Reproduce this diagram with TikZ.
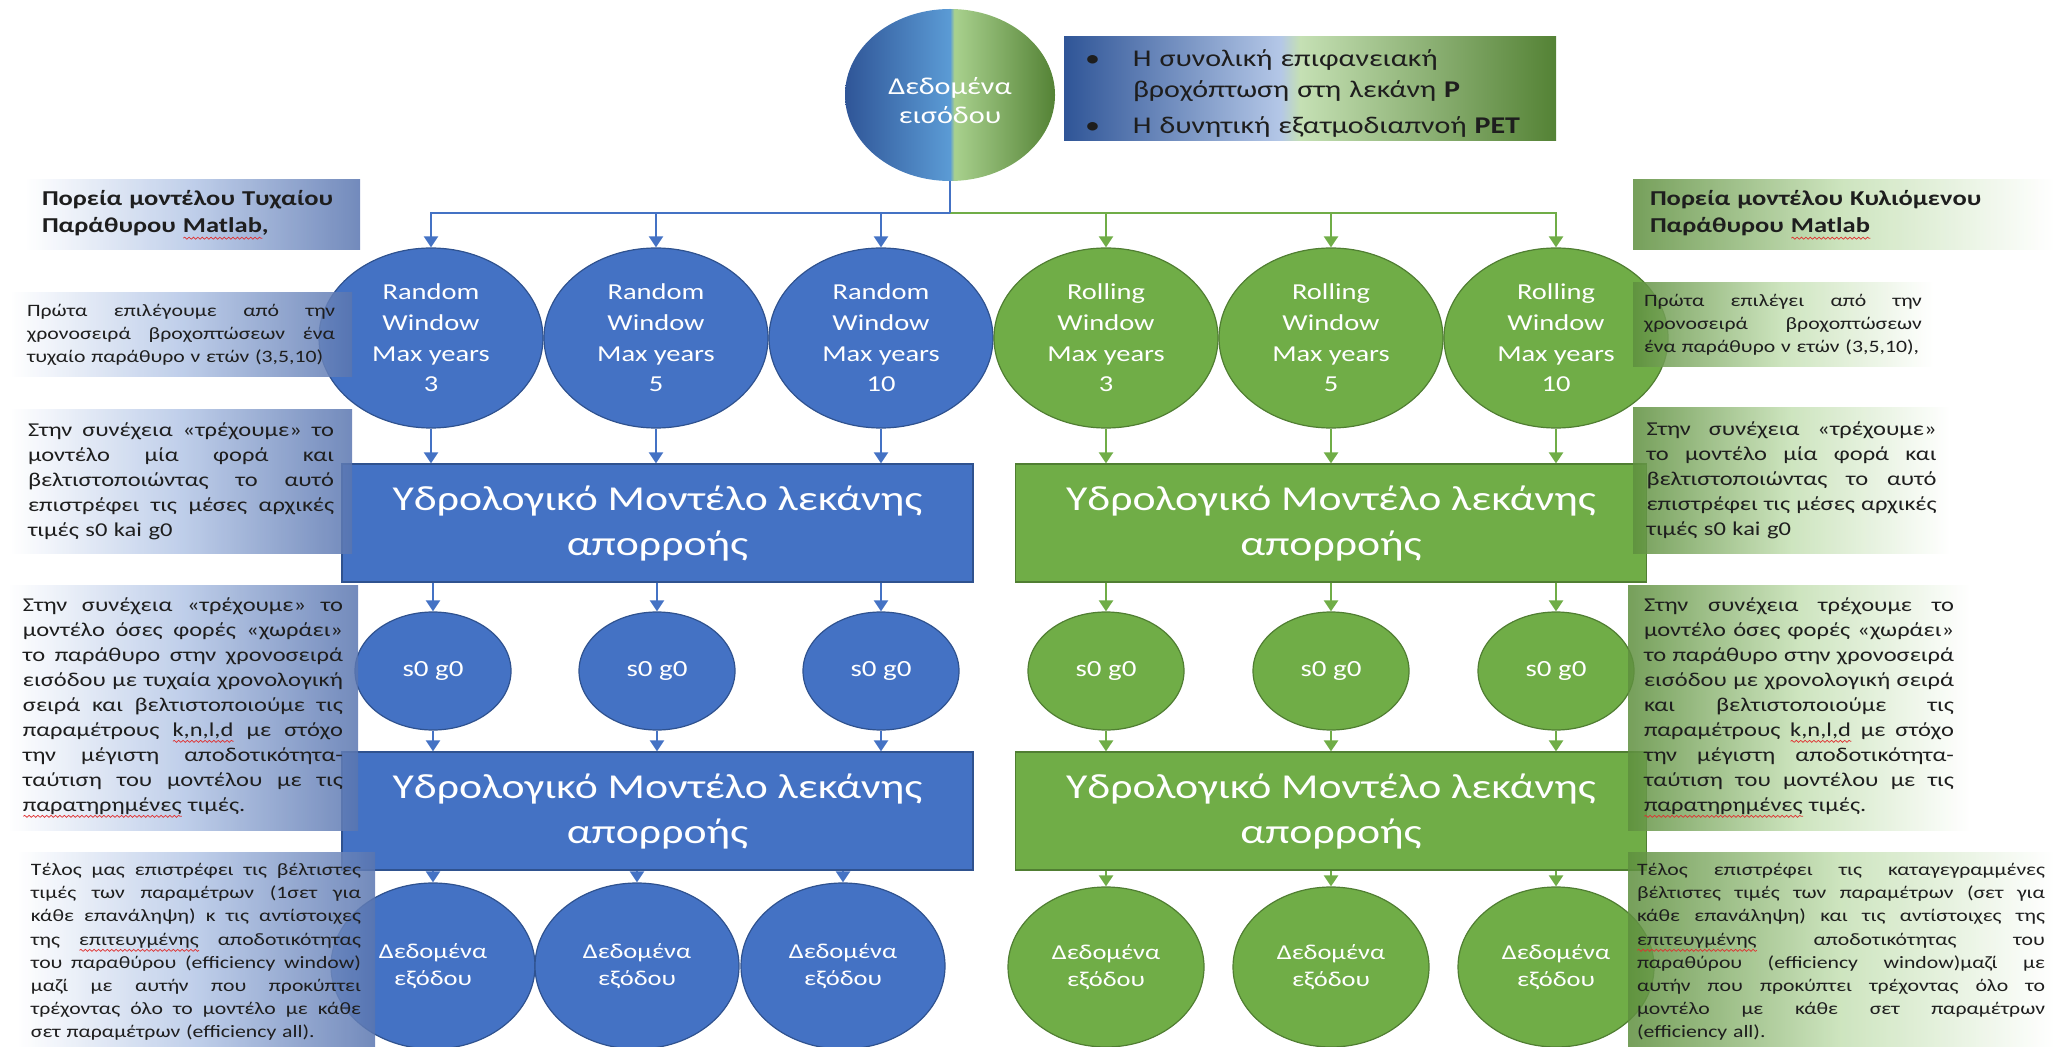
\documentclass[tikz,border=0pt]{standalone}
\usepackage{fontspec}
\setmainfont{Carlito}[FakeStretch=1.25]
\usetikzlibrary{arrows.meta,shapes.geometric,decorations.pathmorphing}

\definecolor{bl}{HTML}{4472C4}
\definecolor{blo}{HTML}{2F528F}
\definecolor{gr}{HTML}{70AD47}
\definecolor{gro}{HTML}{507E32}
\definecolor{dblue}{HTML}{2F5597}
\definecolor{mblue}{HTML}{5B9BD5}
\definecolor{pblue}{HTML}{B4C7E7}
\definecolor{pgreen}{HTML}{C5E0B4}
\definecolor{mgreen}{HTML}{A9D18E}
\definecolor{dgreen}{HTML}{548235}
\definecolor{lside}{HTML}{5A76B0}
\definecolor{lmid}{HTML}{B4C6E6}
\definecolor{rside}{HTML}{5E8F3E}
\definecolor{rmid}{HTML}{C5E0B4}
\definecolor{txt}{HTML}{1E1E1E}
\definecolor{sqred}{HTML}{E03030}

\pgfdeclarehorizontalshading{inshade}{100bp}{color(0bp)=(dblue); color(25bp)=(dblue); color(50bp)=(mblue); color(51bp)=(mgreen); color(75bp)=(dgreen); color(100bp)=(dgreen)}
\pgfdeclarehorizontalshading{boxshade}{100bp}{color(0bp)=(dblue); color(25bp)=(dblue); color(47bp)=(pblue); color(49bp)=(pgreen); color(75bp)=(dgreen); color(100bp)=(dgreen)}

\newcommand\jl[1]{{\spaceskip=0pt\xspaceskip=0pt\makebox[\linewidth][s]{#1}}\par}
\newcommand\lastl[1]{#1\par}
\newsavebox\sqbox
\newcommand\sq[1]{\leavevmode\sbox\sqbox{#1}\rlap{\tikz[baseline=0pt]\draw[sqred, line width=0.35pt, decorate, decoration={snake, amplitude=0.5pt, segment length=2.2pt}] (0pt,-2.6pt) -- (\wd\sqbox,-2.6pt);}\usebox\sqbox}

\tikzset{
  conn/.style={line width=1.1pt},
  tip/.style={-{Triangle[width=7pt,length=5.5pt]}},
  barr/.style={conn, draw=bl, tip},
  garr/.style={conn, draw=gr, tip},
  bseg/.style={conn, draw=bl},
  gseg/.style={conn, draw=gr},
  bsh/.style={fill=bl, draw=blo, line width=0.6pt, text=white, align=center, inner sep=0pt},
  gsh/.style={fill=gr, draw=gro, line width=0.6pt, text=white, align=center, inner sep=0pt},
  winell/.style={ellipse, minimum width=112pt, minimum height=90pt, font=\fontsize{11.4}{15.3}\selectfont},
  sgell/.style={ellipse, minimum width=78pt, minimum height=59pt, font=\fontsize{11.6}{14}\selectfont},
  outell/.style={ellipse, minimum width=102pt, minimum height=83pt, font=\fontsize{10.6}{13.5}\selectfont},
  outellg/.style={ellipse, minimum width=98pt, minimum height=80pt, font=\fontsize{10.6}{13.5}\selectfont},
  model/.style={rectangle, minimum width=315.5pt, minimum height=59pt, font=\fontsize{17.5}{22.5}\selectfont},
  lsh/.style={rectangle, left color=white, right color=lside, middle color=lmid, fill opacity=0.85, text opacity=1, text=txt, inner sep=0pt, align=left},
  rsh/.style={rectangle, left color=rside, right color=white, middle color=rmid, fill opacity=0.85, text opacity=1, text=txt, inner sep=0pt, align=left},
  ttl/.style={font=\bfseries\fontsize{10.6}{13.7}\selectfont},
  bodyA/.style={font=\fontsize{9.8}{12.5}\selectfont},
  bodyB/.style={font=\fontsize{8.7}{11.6}\selectfont},
}

\begin{document}
\begin{tikzpicture}[x=0.5pt, y=-0.5pt]
\useasboundingbox (0,0) rectangle (2054,1047);

% input
\node[ellipse, shade, shading=inshade, minimum width=105pt, minimum height=86pt, inner sep=0pt] (in) at (950,95) {};
\node[text=white, align=center, inner sep=0pt, font=\fontsize{12.1}{14.5}\selectfont] (intxt) at (950,101) {Δεδομένα\\εισόδου};
\node[rectangle, shade, shading=boxshade, minimum width=246pt, minimum height=52pt, inner sep=0pt] (inb) at (1310,89) {};
\node[inner sep=0pt, text width=225pt, align=left, text=txt, font=\fontsize{12}{15.2}\selectfont] (inbtxt) at (1310,94) {\begin{tabular}{@{}p{24pt}@{}l@{}}
•&Η συνολική επιφανειακή\\
&βροχόπτωση στη λεκάνη \textbf{P}\\[3pt]
•&Η δυνητική εξατμοδιαπνοή \textbf{PET}
\end{tabular}};

% row 1
\node[bsh, winell] (r1) at (431,338) {Random\\Window\\Max years\\3};
\node[bsh, winell] (r2) at (656,338) {Random\\Window\\Max years\\5};
\node[bsh, winell] (r3) at (881,338) {Random\\Window\\Max years\\10};
\node[gsh, winell] (k1) at (1106,338) {Rolling\\Window\\Max years\\3};
\node[gsh, winell] (k2) at (1331,338) {Rolling\\Window\\Max years\\5};
\node[gsh, winell] (k3) at (1556,338) {Rolling\\Window\\Max years\\10};

% model boxes
\node[bsh, model] (mb1) at (657.5,523) {Υδρολογικό Μοντέλο λεκάνης\\απορροής};
\node[gsh, model] (mg1) at (1331,523) {Υδρολογικό Μοντέλο λεκάνης\\απορροής};
\node[bsh, model] (mb2) at (657.5,811) {Υδρολογικό Μοντέλο λεκάνης\\απορροής};
\node[gsh, model] (mg2) at (1331,811) {Υδρολογικό Μοντέλο λεκάνης\\απορροής};

% s0 g0
\node[bsh, sgell] (sb1) at (433,671) {s0 g0};
\node[bsh, sgell] (sb2) at (657,671) {s0 g0};
\node[bsh, sgell] (sb3) at (881,671) {s0 g0};
\node[gsh, sgell] (sg1) at (1106,671) {s0 g0};
\node[gsh, sgell] (sg2) at (1331,671) {s0 g0};
\node[gsh, sgell] (sg3) at (1556,671) {s0 g0};

% outputs
\node[bsh, outell] (ob1) at (433,966) {Δεδομένα\\εξόδου};
\node[bsh, outell] (ob2) at (637,966) {Δεδομένα\\εξόδου};
\node[bsh, outell] (ob3) at (843,966) {Δεδομένα\\εξόδου};
\node[gsh, outellg] (og1) at (1106,967) {Δεδομένα\\εξόδου};
\node[gsh, outellg] (og2) at (1331,967) {Δεδομένα\\εξόδου};
\node[gsh, outellg] (og3) at (1556,967) {Δεδομένα\\εξόδου};

% connectors from input
\coordinate (jb) at (950,213);
\draw[gseg] (in.south) -- (jb);
\draw[garr] (jb) -| (k1);
\draw[garr] (jb) -| (k2);
\draw[garr] (jb) -| (k3);
\draw[bseg] (in.south) -- (jb);
\draw[barr] (jb) -| (r1);
\draw[barr] (jb) -| (r2);
\draw[barr] (jb) -| (r3);

% column connectors
\foreach \a/\s/\o in {r1/sb1/ob1, r2/sb2/ob2, r3/sb3/ob3}{
  \draw[barr] (\a.south) -- (\a.south |- mb1.north);
  \draw[barr] (\s.north |- mb1.south) -- (\s.north);
  \draw[barr] (\s.south) -- (\s.south |- mb2.north);
  \draw[barr] (\o.north |- mb2.south) -- (\o.north);
}
\foreach \a/\s/\o in {k1/sg1/og1, k2/sg2/og2, k3/sg3/og3}{
  \draw[garr] (\a.south) -- (\a.south |- mg1.north);
  \draw[garr] (\s.north |- mg1.south) -- (\s.north);
  \draw[garr] (\s.south) -- (\s.south |- mg2.north);
  \draw[garr] (\o.north |- mg2.south) -- (\o.north);
}

% left side boxes
\node[lsh, ttl, minimum width=167.5pt, minimum height=35pt, text width=150.5pt] (lt) at (192.5,215) {Πορεία μοντέλου Τυχαίου\\Παράθυρου \sq{Matlab},};
\node[lsh, bodyB, minimum width=171pt, minimum height=42pt, text width=154pt] (l1) at (181,335) {%
\jl{Πρώτα επιλέγουμε από την}
\jl{χρονοσειρά βροχοπτώσεων ένα}
\lastl{τυχαίο παράθυρο ν ετών (3,5,10)}};
\node[lsh, bodyA, minimum width=171pt, minimum height=71.5pt, text width=153pt] (l2) at (181,481.5) {%
\jl{Στην συνέχεια «τρέχουμε» το}
\jl{μοντέλο μία φορά και}
\jl{βελτιστοποιώντας το αυτό}
\jl{επιστρέφει τις μέσες αρχικές}
\lastl{τιμές s0 kai g0}};
\node[lsh, bodyA, minimum width=175pt, minimum height=122.5pt, text width=160pt] (l3) at (183,707.5) {%
\jl{Στην συνέχεια «τρέχουμε» το}
\jl{μοντέλο όσες φορές «χωράει»}
\jl{το παράθυρο στην χρονοσειρά}
\jl{εισόδου με τυχαία χρονολογική}
\jl{σειρά και βελτιστοποιούμε τις}
\jl{παραμέτρους \sq{k,n,l,d} με στόχο}
\jl{την μέγιστη αποδοτικότητα-}
\jl{ταύτιση του μοντέλου με τις}
\lastl{\sq{παρατηρημένες} τιμές.}};
\node[lsh, bodyB, minimum width=179pt, minimum height=100pt, text width=165pt] (l4) at (196,952) {%
\jl{Τέλος μας επιστρέφει τις βέλτιστες}
\jl{τιμές των παραμέτρων (1σετ για}
\jl{κάθε επανάληψη) κ τις αντίστοιχες}
\jl{της \sq{επιτευγμένης} αποδοτικότητας}
\jl{του παραθύρου (efficiency window)}
\jl{μαζί με αυτήν που προκύπτει}
\jl{τρέχοντας όλο το μοντέλο με κάθε}
\lastl{σετ παραμέτρων (efficiency all).}};

% right side boxes
\node[rsh, ttl, minimum width=210.5pt, minimum height=35pt, text width=193.5pt] (rt) at (1843.5,215) {Πορεία μοντέλου Κυλιόμενου\\Παράθυρου \sq{Matlab}};
\node[rsh, bodyB, minimum width=150pt, minimum height=42pt, text width=139pt] (q1) at (1783,325) {%
\jl{Πρώτα επιλέγει από την}
\jl{χρονοσειρά βροχοπτώσεων}
\lastl{ένα παράθυρο ν ετών (3,5,10),}};
\node[rsh, bodyA, minimum width=158.5pt, minimum height=72.5pt, text width=145pt] (q2) at (1791.5,480.5) {%
\jl{Στην συνέχεια «τρέχουμε»}
\jl{το μοντέλο μία φορά και}
\jl{βελτιστοποιώντας το αυτό}
\jl{επιστρέφει τις μέσες αρχικές}
\lastl{τιμές s0 kai g0}};
\node[rsh, bodyA, minimum width=171pt, minimum height=122.5pt, text width=155pt] (q3) at (1799,707.5) {%
\jl{Στην συνέχεια τρέχουμε το}
\jl{μοντέλο όσες φορές «χωράει»}
\jl{το παράθυρο στην χρονοσειρά}
\jl{εισόδου με χρονολογική σειρά}
\jl{και βελτιστοποιούμε τις}
\jl{παραμέτρους \sq{k,n,l,d} με στόχο}
\jl{την μέγιστη αποδοτικότητα-}
\jl{ταύτιση του μοντέλου με τις}
\lastl{\sq{παρατηρημένες} τιμές.}};
\node[rsh, bodyB, minimum width=213pt, minimum height=100pt, text width=204pt] (q4) at (1841,952) {%
\jl{Τέλος επιστρέφει τις καταγεγραμμένες}
\jl{βέλτιστες τιμές των παραμέτρων (σετ για}
\jl{κάθε επανάληψη) και τις αντίστοιχες της}
\jl{\sq{επιτευγμένης} αποδοτικότητας του}
\jl{παραθύρου (efficiency window)μαζί με}
\jl{αυτήν που προκύπτει τρέχοντας όλο το}
\jl{μοντέλο με κάθε σετ παραμέτρων}
\lastl{(efficiency all).}};
\end{tikzpicture}
\end{document}
